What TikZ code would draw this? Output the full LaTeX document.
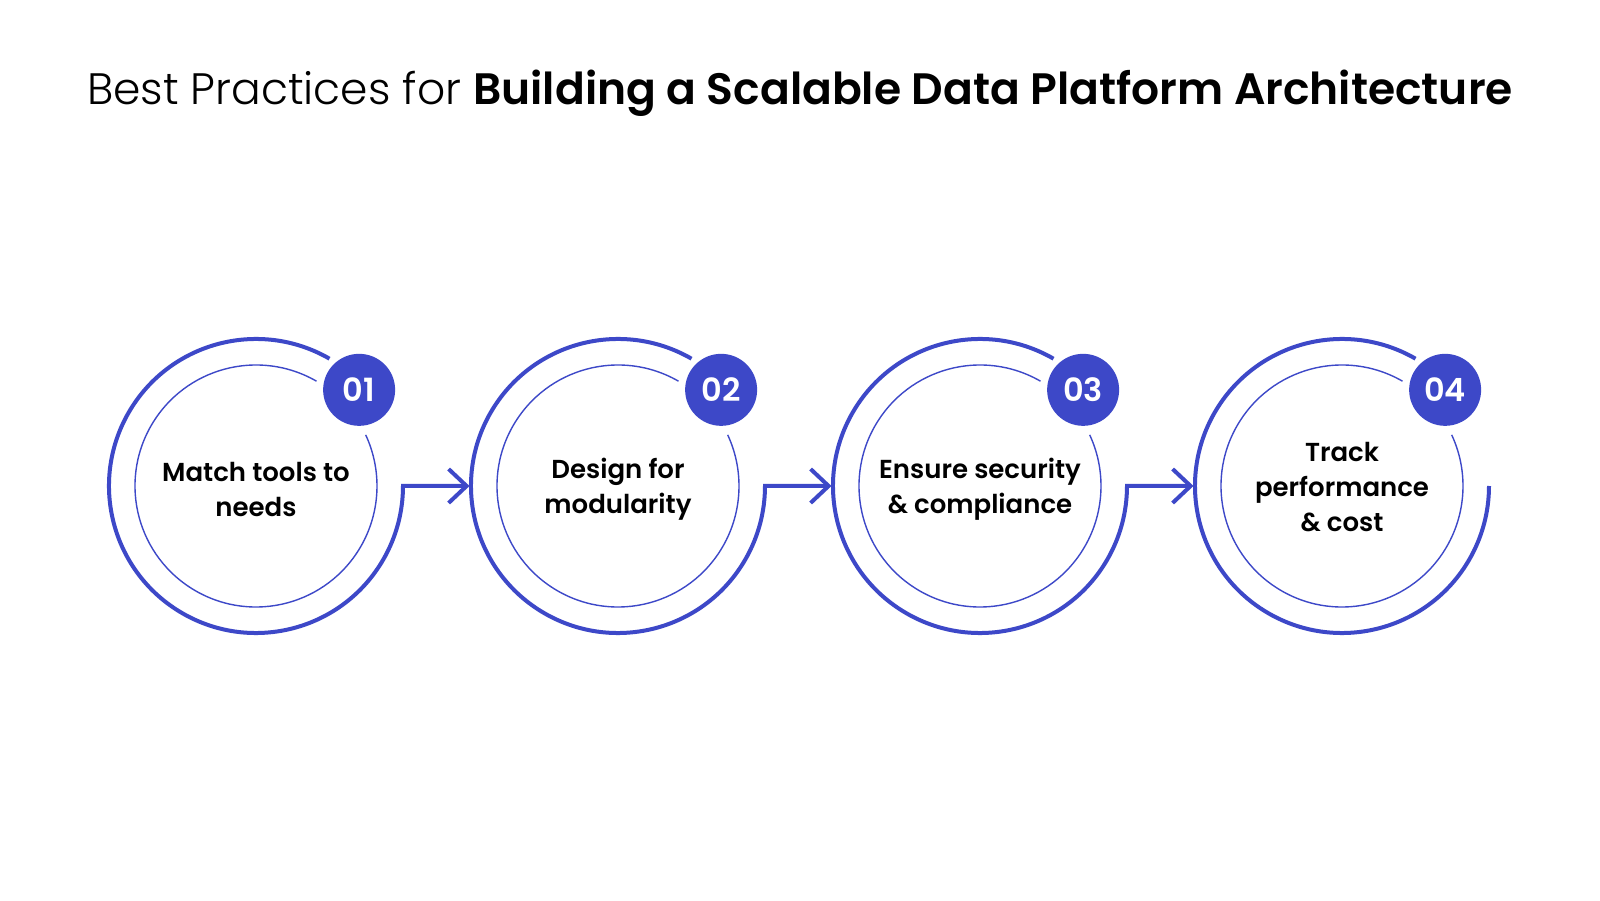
\documentclass[tikz,border=0pt]{standalone}
\usepackage{fontspec}
\usetikzlibrary{arrows.meta,calc}
\IfFontExistsTF{Poppins Light}{\newfontfamily\tlight{Poppins Light}}{\newfontfamily\tlight{Poppins}}
\IfFontExistsTF{Poppins SemiBold}{\newfontfamily\tbold{Poppins SemiBold}}{\newfontfamily\tbold{Poppins Bold}}
\IfFontExistsTF{Poppins SemiBold}{\newfontfamily\tmed{Poppins SemiBold}}{\newfontfamily\tmed{Poppins Medium}}
\definecolor{brand}{RGB}{61,72,200}
\tikzset{
  outerc/.style={circle,minimum size=294pt,inner sep=0pt,outer sep=0pt},
  innerc/.style={circle,minimum size=242pt,inner sep=0pt,outer sep=0pt,align=center,
    font=\tmed\fontsize{26}{35}\selectfont,text=black},
  ring/.style={draw=brand,line width=4pt},
  thinring/.style={draw=brand,line width=1.4pt},
  badge/.style={circle,fill=brand,minimum size=72pt,inner sep=0pt,text=white,
    font=\tbold\fontsize{32}{32}\selectfont},
  flow/.style={draw=brand,line width=4pt,-{Straight Barb[length=18pt,width=34pt,line width=4pt]}},
}
\begin{document}
\begin{tikzpicture}[x=1pt,y=1pt]
\useasboundingbox[fill=white] (0,0) rectangle (1600,900);
\node[anchor=base,font=\fontsize{44}{44}\selectfont] (title) at (800,795)
  {{\tlight Best Practices for }{\tbold Building a Scalable Data Platform Architecture}};
\foreach \i/\x in {1/256,2/618,3/980,4/1342}{
  \node[outerc] (o\i) at (\x,414) {};
}
\node[innerc,yshift=-3pt] (c1) at (o1.center) {Match tools to\\needs};
\node[innerc,yshift=-3pt] (c2) at (o2.center) {Design for\\modularity};
\node[innerc,yshift=-3pt] (c3) at (o3.center) {Ensure security\\\& compliance};
\node[innerc,yshift=-1.5pt] (c4) at (o4.center) {Track\\performance\\\& cost};
\foreach \i in {1,2,3,4}{
  \draw[thinring] ($(o\i.center)+(60:121)$) arc[start angle=60,end angle=385,radius=121pt];
}
\draw[flow] (o1.60) arc[start angle=60,end angle=360,radius=147pt] -- ($(o2.west)+(-1.5,0)$);
\draw[flow] (o2.60) arc[start angle=60,end angle=360,radius=147pt] -- ($(o3.west)+(-1.5,0)$);
\draw[flow] (o3.60) arc[start angle=60,end angle=360,radius=147pt] -- ($(o4.west)+(-1.5,0)$);
\draw[ring] (o4.60) arc[start angle=60,end angle=360,radius=147pt];
\node[badge] (b1) at ($(o1.center)+(43:141)$) {01};
\node[badge] (b2) at ($(o2.center)+(43:141)$) {02};
\node[badge] (b3) at ($(o3.center)+(43:141)$) {03};
\node[badge] (b4) at ($(o4.center)+(43:141)$) {04};
\end{tikzpicture}
\end{document}
